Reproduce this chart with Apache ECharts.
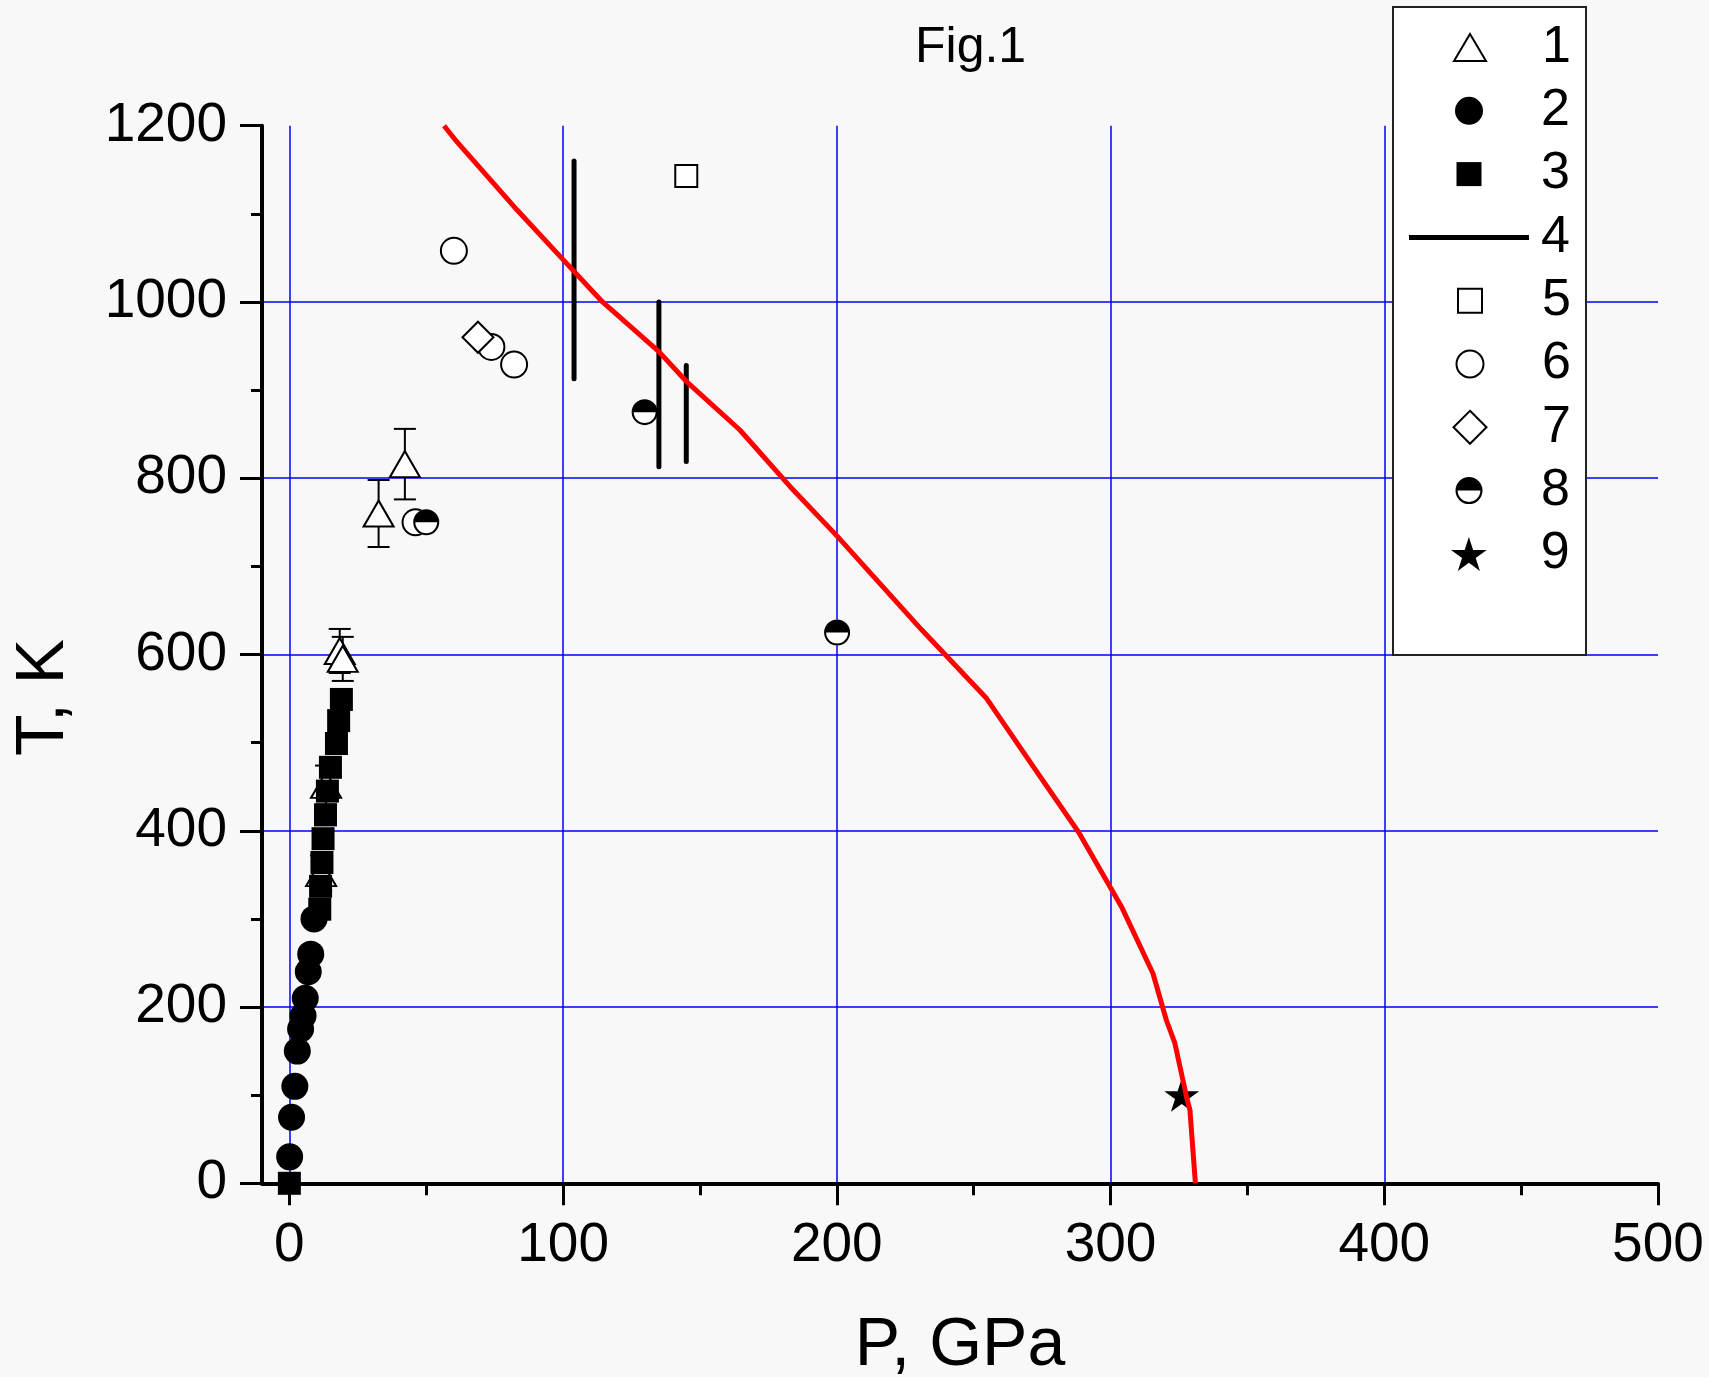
<!DOCTYPE html>
<html>
<head>
<meta charset="utf-8">
<title>Fig.1</title>
<script src="https://cdn.jsdelivr.net/npm/echarts@6.0.0/dist/echarts.min.js"></script>
<style>
  html, body { margin: 0; padding: 0; background: #f8f8f8; }
  #chart { width: 1709px; height: 1377px; }
</style>
</head>
<body>
<div id="chart"></div>
<script>
  // 1 - open triangles with error bars
  var triP = [11.6, 13.4, 18.4, 19.5, 32.6, 42.2];
  var triT = [352, 452, 604, 595, 760, 816];
  var triErr = [20, 22, 25, 25, 38, 40];
  // 2 - filled circles
  var circP = [0.1, 0.8, 2.0, 2.9, 4.1, 5.0, 5.8, 6.9, 7.8, 9.0];
  var circT = [30, 75, 110, 150, 175, 190, 210, 240, 260, 300];
  // 3 - filled squares
  var sqP = [0, 11.1, 11.4, 11.9, 12.3, 13.2, 13.9, 15.0, 17.2, 18.0, 19.0];
  var sqT = [0, 311, 337, 364, 391, 418, 445, 472, 499, 525, 549];
  // 4 - vertical bars (T range)
  var barP = [104, 135, 145];
  var barLo = [913, 813, 819];
  var barHi = [1160, 1000, 928];
  // 5 - open square
  var openSqP = [145];
  var openSqT = [1143];
  // 6 - open circles
  var openCircP = [60.1, 73.8, 82.1, 46.1];
  var openCircT = [1058, 949, 929, 750];
  // 7 - open diamond
  var diamP = [68.9];
  var diamT = [960];
  // 8 - half filled circles
  var halfP = [50.0, 129.8, 200.1];
  var halfT = [750, 875, 625];
  // 9 - star
  var starP = [326];
  var starT = [100];
  // red curve
  var curveP = [56.5, 60.6, 83.3, 100, 114.4, 134.9, 145, 164.5, 182.8, 200.2, 231, 254.5, 271.7, 288.4, 304.3, 315.5, 320.4, 323.5, 327.7, 329, 331];
  var curveT = [1200, 1184, 1104, 1048, 1000, 944, 910, 855, 791, 734, 628, 551, 473, 398, 312, 238, 185, 159, 99, 83, 0];

  var xTicks = [0, 500, 100];   // min, max, step
  var yTicks = [0, 1200, 200];

  var FONT = 'Liberation Sans, Arial, sans-serif';
  var HALF = 'path://M-10 0 A10 10 0 0 1 10 0 Z M10 0 A10 10 0 0 1 -10 0 L-8.4 0 A8.4 8.4 0 0 0 8.4 0 Z';
  var STAR = 'path://M0 -100 L22.45 -30.9 L95.1 -30.9 L36.33 11.8 L58.78 80.9 L0 38.2 L-58.78 80.9 L-36.33 11.8 L-95.1 -30.9 L-22.45 -30.9 Z';
  var BAR = 'path://M0 0 H120 V5 H0 Z';
  var openStyle = {color: '#fff', borderColor: '#000', borderWidth: 2, opacity: 1};
  var black = {color: '#000', opacity: 1};

  function pairs(xs, ys) {
    return xs.map(function (x, i) { return [x, ys[i]]; });
  }

  var series = [];

  // error bars for set 1
  series.push({
    name: 'err1', type: 'custom',
    data: triP.map(function (p, i) { return [p, triT[i], triErr[i]]; }),
    encode: {x: 0, y: 1},
    renderItem: function (params, api) {
      var x = api.value(0), t = api.value(1), e = api.value(2);
      var top = api.coord([x, t + e]);
      var bot = api.coord([x, t - e]);
      var cw = 11;
      var st = {stroke: '#000', lineWidth: 2};
      return {type: 'group', children: [
        {type: 'line', shape: {x1: top[0], y1: top[1], x2: bot[0], y2: bot[1]}, style: st},
        {type: 'line', shape: {x1: top[0] - cw, y1: top[1], x2: top[0] + cw, y2: top[1]}, style: st},
        {type: 'line', shape: {x1: bot[0] - cw, y1: bot[1], x2: bot[0] + cw, y2: bot[1]}, style: st}
      ]};
    }
  });
  series.push({name: '1', type: 'scatter', symbol: 'triangle', symbolSize: [30, 26], itemStyle: openStyle, data: pairs(triP, triT)});
  series.push({name: '2', type: 'scatter', symbol: 'circle', symbolSize: 27, itemStyle: black, data: pairs(circP, circT)});
  series.push({name: '3', type: 'scatter', symbol: 'rect', symbolSize: 23, itemStyle: black, data: pairs(sqP, sqT)});
  barP.forEach(function (p, i) {
    series.push({
      name: '4', type: 'line', symbol: 'none', showSymbol: false,
      itemStyle: black,
      lineStyle: {color: '#000', width: 5, cap: 'round'},
      data: [[p, barLo[i]], [p, barHi[i]]]
    });
  });
  series.push({name: '5', type: 'scatter', symbol: 'rect', symbolSize: 22, itemStyle: openStyle, data: pairs(openSqP, openSqT)});
  series.push({name: '6', type: 'scatter', symbol: 'circle', symbolSize: 26, itemStyle: openStyle, data: pairs(openCircP, openCircT)});
  series.push({name: '7', type: 'scatter', symbol: 'diamond', symbolSize: 31, itemStyle: openStyle, data: pairs(diamP, diamT)});
  series.push({name: '8w', type: 'scatter', symbol: 'circle', symbolSize: 26, itemStyle: {color: '#fff', opacity: 1}, data: pairs(halfP, halfT)});
  series.push({name: '8', type: 'scatter', symbol: HALF, symbolSize: 26, itemStyle: black, data: pairs(halfP, halfT)});
  series.push({name: '9', type: 'scatter', symbol: STAR, symbolSize: [35, 33], itemStyle: black, data: pairs(starP, starT)});
  series.push({
    name: 'curve', type: 'line', symbol: 'none', showSymbol: false,
    itemStyle: {color: '#ff0000'},
    lineStyle: {color: '#ff0000', width: 5},
    data: pairs(curveP, curveT)
  });
  series.forEach(function (s) { s.xAxisIndex = 0; s.yAxisIndex = 0; s.silent = true; });

  // legend: one small legend per row so each icon keeps its own size
  var legendRows = [
    {name: '1', icon: 'triangle', w: 32, h: 27, style: openStyle},
    {name: '2', icon: 'circle', w: 28, h: 28, style: black},
    {name: '3', icon: 'rect', w: 25, h: 24, style: black},
    {name: '4', icon: BAR, w: 120, h: 10, style: black},
    {name: '5', icon: 'rect', w: 24, h: 24, style: openStyle},
    {name: '6', icon: 'circle', w: 27, h: 27, style: openStyle},
    {name: '7', icon: 'diamond', w: 33, h: 33, style: openStyle},
    {name: '8', icon: HALF, w: 27, h: 27, style: black},
    {name: '9', icon: STAR, w: 36, h: 34, style: black}
  ];
  var legends = legendRows.map(function (r, i) {
    var cy = 47.5 + 63.3 * i;
    return {
      data: [{name: r.name, icon: r.icon, itemStyle: r.style}],
      orient: 'vertical', left: 1469 - r.w / 2, top: cy - 26, padding: 0,
      itemWidth: r.w, itemHeight: r.h, selectedMode: false, z: 6,
      textStyle: {fontFamily: FONT, fontSize: 52, color: '#000', padding: [0, 0, 0, 67 - r.w / 2]}
    };
  });

  var blueLine = {color: '#0000ff', width: 1.5};

  var option = {
    backgroundColor: '#f8f8f8',
    animation: false,
    textStyle: {fontFamily: FONT},
    title: {
      text: 'Fig.1', left: 915, top: 23, padding: 0,
      textStyle: {fontFamily: FONT, fontSize: 50, fontWeight: 'normal', color: '#000'}
    },
    legend: legends,
    graphic: [{
      type: 'rect', z: 3,
      shape: {x: 1393, y: 7, width: 193, height: 648},
      style: {fill: '#fff', stroke: '#222', lineWidth: 2}
    }],
    grid: [
      {left: 262, top: 125.7, width: 1396, height: 1057.6, outerBoundsMode: 'none', containLabel: false},
      {left: 289.37, top: 125.7, width: 1368.63, height: 1057.6, outerBoundsMode: 'none', containLabel: false}
    ],
    xAxis: [
      {
        gridIndex: 0, type: 'value', min: -10, max: xTicks[1],
        name: 'P, GPa', nameLocation: 'middle', nameGap: 129,
        nameTextStyle: {fontFamily: FONT, fontSize: 68, color: '#000'},
        axisLine: {show: true, onZero: false, lineStyle: {color: '#000', width: 4}},
        axisTick: {show: false}, axisLabel: {show: false}, splitLine: {show: false}
      },
      {
        gridIndex: 1, type: 'value', min: xTicks[0], max: xTicks[1], interval: xTicks[2],
        axisLine: {show: false, onZero: false},
        axisTick: {show: true, length: 22, lineStyle: {color: '#000', width: 3}},
        minorTick: {show: true, splitNumber: 2, length: 12, lineStyle: {color: '#000', width: 3}},
        axisLabel: {fontFamily: FONT, fontSize: 55, color: '#000', margin: 35},
        splitLine: {show: true, showMinLine: true, showMaxLine: false, lineStyle: blueLine}
      }
    ],
    yAxis: [
      {
        gridIndex: 0, type: 'value', min: yTicks[0], max: yTicks[1], interval: yTicks[2],
        name: 'T, K', nameLocation: 'middle', nameGap: 184,
        nameTextStyle: {fontFamily: FONT, fontSize: 68, color: '#000', padding: [0, 86, 0, 0]},
        axisLine: {show: true, onZero: false, lineStyle: {color: '#000', width: 4}},
        axisTick: {show: true, length: 22, lineStyle: {color: '#000', width: 3}},
        minorTick: {show: true, splitNumber: 2, length: 11, lineStyle: {color: '#000', width: 3}},
        axisLabel: {
          fontFamily: FONT, fontSize: 55, color: '#000', margin: 35,
          formatter: function (v) { return String(v); }
        },
        splitLine: {show: true, showMinLine: false, showMaxLine: false, lineStyle: blueLine}
      },
      {gridIndex: 1, type: 'value', min: yTicks[0], max: yTicks[1], show: false}
    ],
    series: series
  };

  var chart = echarts.init(document.getElementById('chart'));
  chart.setOption(option);
</script>
</body>
</html>
